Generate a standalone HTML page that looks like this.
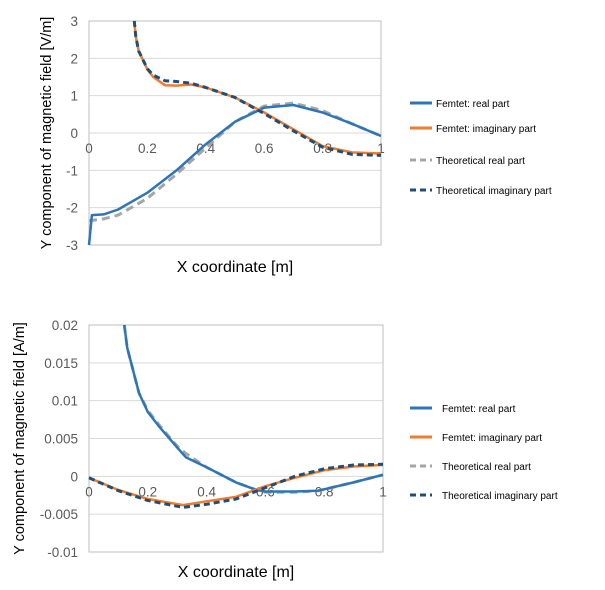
<!DOCTYPE html>
<html><head><meta charset="utf-8"><style>
body{margin:0;background:#fff;font-family:"Liberation Sans",sans-serif}
svg text{font-family:"Liberation Sans",sans-serif}
</style></head><body>
<svg width="605" height="585" xmlns="http://www.w3.org/2000/svg">
<g id="top"></g>
<g id="bot"></g>
</svg>
<script>
const NS='http://www.w3.org/2000/svg';
// Top chart data (electric field, V/m)
const topYTicks=[3,2,1,0,-1,-2,-3];
const topXTicks=[0,0.2,0.4,0.6,0.8,1];
const topFemReal=[[0,-3],[0.01,-2.2],[0.05,-2.18],[0.1,-2.05],[0.2,-1.6],[0.3,-1.0],[0.4,-0.3],[0.5,0.3],[0.6,0.68],[0.7,0.75],[0.8,0.55],[0.9,0.25],[1,-0.08]];
const topFemImag=[[0.155,3],[0.16,2.6],[0.17,2.2],[0.2,1.7],[0.22,1.5],[0.26,1.28],[0.3,1.27],[0.35,1.3],[0.4,1.22],[0.5,0.95],[0.6,0.55],[0.7,0.1],[0.8,-0.35],[0.9,-0.52],[1,-0.55]];
const topThReal=[[0,-2.35],[0.05,-2.3],[0.1,-2.2],[0.2,-1.75],[0.3,-1.1],[0.4,-0.4],[0.5,0.3],[0.6,0.72],[0.7,0.8],[0.8,0.6],[0.9,0.25],[1,-0.08]];
const topThImag=[[0.155,3],[0.16,2.6],[0.17,2.2],[0.2,1.72],[0.22,1.55],[0.26,1.4],[0.3,1.38],[0.35,1.33],[0.4,1.22],[0.5,0.95],[0.6,0.52],[0.7,0.06],[0.8,-0.38],[0.9,-0.57],[1,-0.6]];
// Bottom chart data (magnetic field, A/m)
const botYTicks=[0.02,0.015,0.01,0.005,0,-0.005,-0.01];
const botYLabels=['0.02','0.015','0.01','0.005','0','-0.005','-0.01'];
const botXTicks=[0,0.2,0.4,0.6,0.8,1];
const botFemReal=[[0.12,0.02],[0.13,0.017],[0.17,0.011],[0.2,0.0085],[0.24,0.0065],[0.3,0.0038],[0.33,0.0025],[0.4,0.0012],[0.5,-0.0008],[0.57,-0.0018],[0.6,-0.002],[0.7,-0.002],[0.78,-0.0019],[0.9,-0.0008],[1,0.0002]];
const botFemImag=[[0,-0.0002],[0.1,-0.0018],[0.2,-0.003],[0.32,-0.0038],[0.4,-0.0033],[0.5,-0.0027],[0.6,-0.0013],[0.7,-0.0002],[0.8,0.0008],[0.9,0.0013],[1,0.0015]];
const botThReal=[[0.12,0.02],[0.13,0.017],[0.17,0.011],[0.2,0.0087],[0.24,0.0067],[0.3,0.004],[0.33,0.003],[0.4,0.0012],[0.5,-0.0008],[0.57,-0.0018],[0.6,-0.0021],[0.7,-0.0021],[0.78,-0.0019],[0.9,-0.0008],[1,0.0002]];
const botThImag=[[0,-0.0002],[0.1,-0.0019],[0.2,-0.0032],[0.32,-0.0041],[0.4,-0.0037],[0.5,-0.003],[0.6,-0.0015],[0.7,0],[0.8,0.001],[0.9,0.0015],[1,0.0016]];
const legendNames=['Femtet: real part','Femtet: imaginary part','Theoretical real part','Theoretical imaginary part'];

function mk(p,tag,a,txt){const e=document.createElementNS(NS,tag);for(const k in a)e.setAttribute(k,a[k]);if(txt!==undefined)e.textContent=txt;p.appendChild(e);return e;}
function chart(g,o){
 const X=v=>o.x0+(o.x1-o.x0)*v;
 const Y=v=>o.yt+(o.yb-o.yt)*(o.ymax-v)/(o.ymax-o.ymin);
 o.yTicks.forEach((t,i)=>{
  const gl=mk(g,'line',{x1:o.x0,x2:o.x1,y1:Y(t),y2:Y(t),stroke:'#d9d9d9','stroke-width':1});
  
  const tl=mk(g,'text',{x:o.x0-11,y:Y(t)+5,'text-anchor':'end','font-size':13.5,fill:'#595959'},o.yLabels[i]);
  
 });
 const fr=mk(g,'rect',{x:o.x0,y:o.yt,width:o.x1-o.x0,height:o.yb-o.yt,fill:'none',stroke:'#bfbfbf'});
 
 o.xTicks.forEach(t=>{
  const tl=mk(g,'text',{x:X(t),y:Y(0)+20,'text-anchor':'middle','font-size':13.5,fill:'#595959'},String(t));
  
 });
 const series=[[o.s[2],'#a5a5a5','8,5',3,'theoretical-real-line'],[o.s[0],'#2e75b6',null,2.5,'femtet-real-line'],[o.s[1],'#ed7d31',null,2.5,'femtet-imaginary-line'],[o.s[3],'#1f4e79','6,4',3,'theoretical-imaginary-line']];
 series.forEach(s=>{
  const a={d:'M'+s[0].map(p=>X(p[0]).toFixed(1)+','+Y(p[1]).toFixed(1)).join('L'),fill:'none',stroke:s[1],'stroke-width':s[3],'stroke-linejoin':'round'};
  if(s[2])a['stroke-dasharray']=s[2];
  const pth=mk(g,'path',a);
  
 });
 const xt=mk(g,'text',{x:(o.x0+o.x1)/2,y:o.xtY,'text-anchor':'middle','font-size':16,fill:'#000'},'X coordinate [m]');
 
 const cy=(o.yt+o.yb)/2;
 const yt=mk(g,'text',{x:0,y:0,transform:`translate(${o.ytX},${cy}) rotate(-90)`,'text-anchor':'middle','font-size':14.5,fill:'#000'},o.yTitle);
 
 const styles=[['#2e75b6',null],['#ed7d31',null],['#a5a5a5','6,4'],['#1f4e79','6,4']];
 legendNames.forEach((n,i)=>{
  const ly=o.legY[i];
  const a={x1:410,x2:432,y1:ly,y2:ly,stroke:styles[i][0],'stroke-width':3};
  if(styles[i][1])a['stroke-dasharray']=styles[i][1];
  const l=mk(g,'line',a);
  const t=mk(g,'text',{x:o.legX,y:ly+4,'font-size':10,fill:'#000'},n);
  
 });
}
chart(document.getElementById('top'),{x0:89,x1:381,yt:21,yb:245,ymax:3,ymin:-3,yTicks:topYTicks,yLabels:topYTicks.map(String),xTicks:topXTicks,s:[topFemReal,topFemImag,topThReal,topThImag],xtY:272,ytX:51,yTitle:'Y component of magnetic field [V/m]',legY:[103,128,160,190],legX:436});
chart(document.getElementById('bot'),{x0:89,x1:383,yt:325,yb:552,ymax:0.02,ymin:-0.01,yTicks:botYTicks,yLabels:botYLabels,xTicks:botXTicks,s:[botFemReal,botFemImag,botThReal,botThImag],xtY:577,ytX:24,yTitle:'Y component of magnetic field [A/m]',legY:[408,437,466,495],legX:442});
</script>
</body></html>
